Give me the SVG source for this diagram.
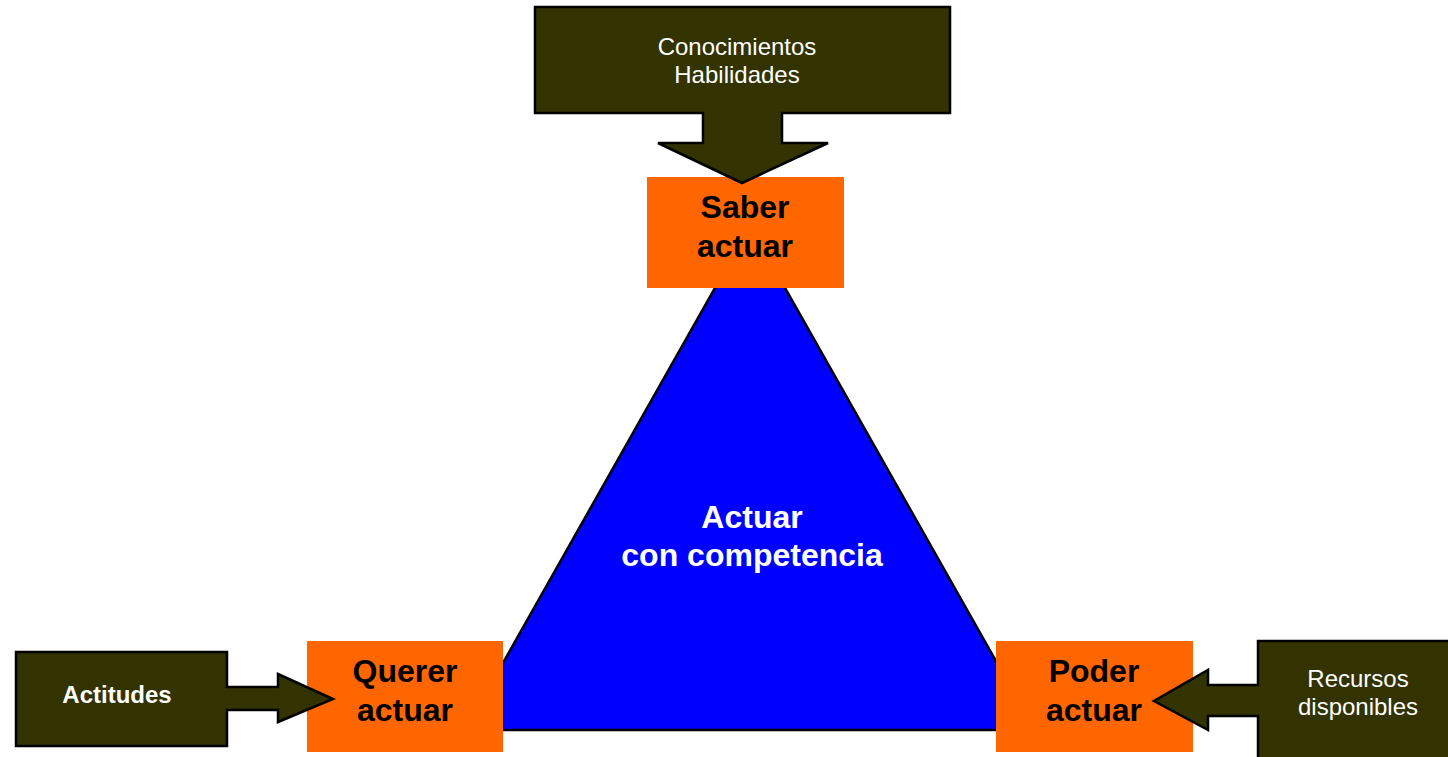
<svg xmlns="http://www.w3.org/2000/svg" width="1448" height="757" viewBox="0 0 1448 757">
<style>
.call{fill:#333300;stroke:#000;stroke-width:2.5;stroke-linejoin:miter}
.box{fill:#FF6600}
.bt{font-family:"Liberation Sans",Arial,sans-serif;font-weight:bold;font-size:32px;fill:#000;text-anchor:middle}
.wt{font-family:"Liberation Sans",Arial,sans-serif;font-size:24px;fill:#fff;text-anchor:middle}
</style>
<rect width="1448" height="757" fill="#fff"/>
<g id="triangle">
<polygon points="750,226 465,730 1035,730" fill="#0000FF" stroke="#000" stroke-width="2.5"/>
<text class="bt" x="752" y="528" style="fill:#fff">Actuar</text>
<text class="bt" x="752" y="566" style="fill:#fff">con competencia</text>
</g>
<g id="saber">
<rect class="box" x="647" y="177" width="197" height="111"/>
<text class="bt" x="745" y="218">Saber</text>
<text class="bt" x="745" y="257">actuar</text>
</g>
<g id="querer">
<rect class="box" x="307" y="641" width="196" height="111"/>
<text class="bt" x="405" y="682">Querer</text>
<text class="bt" x="405" y="721">actuar</text>
</g>
<g id="poder">
<rect class="box" x="996" y="641" width="197" height="111"/>
<text class="bt" x="1094" y="682">Poder</text>
<text class="bt" x="1094" y="721">actuar</text>
</g>
<g id="connectors">
<path class="call" d="M535,7 H950 V113 H782 V143 H828 L742,183 L658,143 H703 V113 H535 Z"/>
<path class="call" d="M16,652 H227 V687 H278 V674 L333,699 L278,722 V710 H227 V746 H16 Z"/>
<path class="call" d="M1258,641 H1460 V770 H1258 V716 H1208 V730 L1154,701 L1208,670 V685 H1258 Z"/>
</g>
<g id="conocimientos">
<text class="wt" x="737" y="55">Conocimientos</text>
<text class="wt" x="737" y="83">Habilidades</text>
</g>
<g id="actitudes">
<text class="wt" x="117" y="703" style="font-weight:bold">Actitudes</text>
</g>
<g id="recursos">
<text class="wt" x="1358" y="687">Recursos</text>
<text class="wt" x="1358" y="715">disponibles</text>
</g>
</svg>
